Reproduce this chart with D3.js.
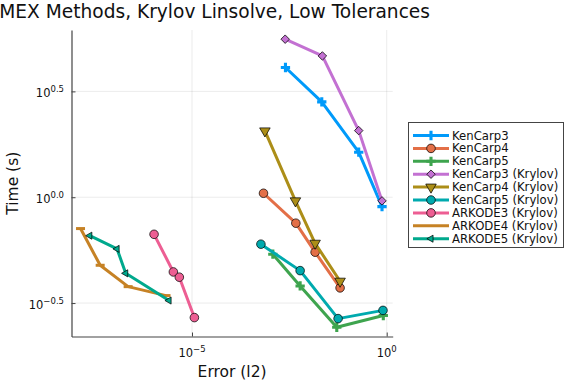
<!DOCTYPE html>
<html>
<head>
<meta charset="utf-8">
<script src="https://cdn.jsdelivr.net/npm/d3@7"></script>
<style>
  body { margin: 0; background: #fff; }
  svg { display: block; font-family: "DejaVu Sans", sans-serif; }
</style>
</head>
<body>
<svg width="576" height="384"></svg>
<script>
// series values (error in l2, time in s)
const names = ['KenCarp3', 'KenCarp4', 'KenCarp5', 'KenCarp3 (Krylov)', 'KenCarp4 (Krylov)',
  'KenCarp5 (Krylov)', 'ARKODE3 (Krylov)', 'ARKODE4 (Krylov)', 'ARKODE5 (Krylov)'];

const kc3Err = [0.00251, 0.0215, 0.191, 0.758];
const kc3Time = [4.10, 2.82, 1.632, 0.903];
const kc4Err = [6.85e-4, 0.00464, 0.0145, 0.0635];
const kc4Time = [1.044, 0.754, 0.55, 0.373];
const kc5Err = [1.19e-3, 0.00598, 0.0522, 0.818];
const kc5Time = [0.538, 0.381, 0.243, 0.276];
const kc3kErr = [0.00247, 0.0223, 0.191, 0.758];
const kc3kTime = [5.58, 4.65, 2.064, 0.961];
const kc4kErr = [7.45e-4, 0.00453, 0.0145, 0.0635];
const kc4kTime = [2.057, 0.961, 0.606, 0.401];
const kc5kErr = [5.88e-4, 0.00598, 0.0564, 0.803];
const kc5kTime = [0.600, 0.450, 0.267, 0.292];
const ark3Err = [1.06e-6, 3.32e-6, 4.72e-6, 1.15e-5];
const ark3Time = [0.668, 0.4436, 0.419, 0.27];
const ark4Err = [1.37e-8, 4.38e-8, 2.29e-7, 2.15e-6];
const ark4Time = [0.711, 0.477, 0.378, 0.343];
const ark5Err = [2.37e-8, 1.19e-7, 1.98e-7, 2.57e-6];
const ark5Time = [0.658, 0.570, 0.437, 0.325];

const xTicks = [1e-5, 1];
const xTickExp = ['\u22125', '0'];
const yTicks = [Math.pow(10, -0.5), 1, Math.pow(10, 0.5)];
const yTickExp = ['\u22120.5', '0.0', '0.5'];

// styling
const colors = ['#009AFA', '#E36F47', '#3EA44E', '#C371D2', '#AC8E18', '#00AAAE', '#ED5E93', '#C68225', '#00A98D'];
const markers = ['cross', 'circle', 'cross', 'diamond', 'dtriangle', 'circle', 'circle', 'hline', 'ltriangle'];
const errs = [kc3Err, kc4Err, kc5Err, kc3kErr, kc4kErr, kc5kErr, ark3Err, ark4Err, ark5Err];
const times = [kc3Time, kc4Time, kc5Time, kc3kTime, kc4kTime, kc5kTime, ark3Time, ark4Time, ark5Time];

const svg = d3.select('svg');
const margin = {left: 71.5, right: 392.7, top: 30, bottom: 336.5};

const x = d3.scaleLog()
  .domain([Math.pow(10, -8.095), Math.pow(10, 0.154)])
  .range([margin.left, margin.right]);
const y = d3.scaleLog()
  .domain([Math.pow(10, -0.658), Math.pow(10, 0.79)])
  .range([margin.bottom, margin.top]);

// grid
const grid = svg.append('g').attr('stroke', '#000').attr('stroke-opacity', 0.1).attr('stroke-width', 0.8);
xTicks.forEach(t => grid.append('line')
  .attr('x1', x(t)).attr('x2', x(t)).attr('y1', margin.top).attr('y2', margin.bottom));
yTicks.forEach(t => grid.append('line')
  .attr('x1', margin.left).attr('x2', margin.right).attr('y1', y(t)).attr('y2', y(t)));

// axes
const xAxis = svg.append('g')
  .attr('transform', `translate(0,${margin.bottom})`)
  .call(d3.axisBottom(x).tickValues(xTicks).tickSizeInner(-4).tickSizeOuter(0).tickFormat(''));
const yAxis = svg.append('g')
  .attr('transform', `translate(${margin.left},0)`)
  .call(d3.axisLeft(y).tickValues(yTicks).tickSizeInner(-4).tickSizeOuter(0).tickFormat(''));
[xAxis, yAxis].forEach(a => {
  a.select('.domain').attr('stroke', '#444').attr('stroke-width', 1.2);
  a.selectAll('.tick line').attr('stroke', '#444');
});

xTicks.forEach((t, i) => {
  const tx = svg.append('text').attr('x', x(t)).attr('y', 356.5)
    .attr('text-anchor', 'middle').attr('font-size', 11.5).attr('fill', '#111');
  tx.append('tspan').text('10');
  tx.append('tspan').attr('dy', -5).attr('font-size', 8.5).text(xTickExp[i]);
});
yTicks.forEach((t, i) => {
  const ty = svg.append('text').attr('x', 64).attr('y', y(t) + 6)
    .attr('text-anchor', 'end').attr('font-size', 11.5).attr('fill', '#111');
  ty.append('tspan').text('10');
  ty.append('tspan').attr('dy', -5).attr('font-size', 8.5).text(yTickExp[i]);
});

// titles
svg.append('text').attr('x', 430).attr('y', 18)
  .attr('text-anchor', 'end').attr('font-size', 18.6).attr('fill', '#111')
  .text('IMEX Methods, Krylov Linsolve, Low Tolerances');
svg.append('text').attr('x', (margin.left + margin.right) / 2).attr('y', 377)
  .attr('text-anchor', 'middle').attr('font-size', 15.5).attr('fill', '#111')
  .text('Error (l2)');
svg.append('text').attr('transform', `translate(18,${(margin.top + margin.bottom) / 2}) rotate(-90)`)
  .attr('text-anchor', 'middle').attr('font-size', 15.5).attr('fill', '#111')
  .text('Time (s)');

function drawMarker(g, kind, color, cx, cy) {
  const stroke = 'rgba(0,0,0,0.8)';
  if (kind === 'cross') {
    g.append('path').attr('d', d3.symbol(d3.symbolCross, 48)())
      .attr('transform', `translate(${cx},${cy})`).attr('fill', color);
  } else if (kind === 'circle') {
    g.append('circle').attr('cx', cx).attr('cy', cy).attr('r', 4.3)
      .attr('fill', color).attr('stroke', stroke).attr('stroke-width', 0.9);
  } else if (kind === 'diamond') {
    g.append('path').attr('d', d3.symbol(d3.symbolSquare, 36)())
      .attr('transform', `translate(${cx},${cy}) rotate(45)`)
      .attr('fill', color).attr('stroke', stroke).attr('stroke-width', 0.9);
  } else if (kind === 'dtriangle') {
    g.append('path').attr('d', d3.symbol(d3.symbolTriangle, 48)())
      .attr('transform', `translate(${cx},${cy}) rotate(180)`)
      .attr('fill', color).attr('stroke', stroke).attr('stroke-width', 0.9);
  } else if (kind === 'ltriangle') {
    g.append('path').attr('d', d3.symbol(d3.symbolTriangle, 22)())
      .attr('transform', `translate(${cx},${cy}) rotate(-90)`)
      .attr('fill', color).attr('stroke', stroke).attr('stroke-width', 0.9);
  } else if (kind === 'hline') {
    g.append('rect').attr('x', cx - 4.5).attr('y', cy - 1.5).attr('width', 9).attr('height', 3)
      .attr('fill', color);
  }
}

// series
const line = d3.line().x(d => x(d[0])).y(d => y(d[1]));
names.forEach((n, i) => {
  const pts = errs[i].map((e, j) => [e, times[i][j]]);
  const g = svg.append('g');
  g.append('path').attr('d', line(pts)).attr('fill', 'none')
    .attr('stroke', colors[i]).attr('stroke-width', 3).attr('stroke-linejoin', 'round');
  pts.forEach(p => drawMarker(g, markers[i], colors[i], x(p[0]), y(p[1])));
});

// legend
const lg = svg.append('g');
lg.append('rect').attr('x', 408.5).attr('y', 122.5).attr('width', 155).attr('height', 125)
  .attr('fill', '#fff').attr('stroke', '#444').attr('stroke-width', 1);
names.forEach((n, i) => {
  const ly = 135.5 + i * 12.9;
  lg.append('line').attr('x1', 413).attr('x2', 449).attr('y1', ly).attr('y2', ly)
    .attr('stroke', colors[i]).attr('stroke-width', 3);
  if (markers[i] !== 'hline') drawMarker(lg, markers[i], colors[i], 431, ly);
  lg.append('text').attr('x', 452).attr('y', ly + 4).attr('font-size', 11.7).attr('fill', '#111').text(n);
});
</script>
</body>
</html>
